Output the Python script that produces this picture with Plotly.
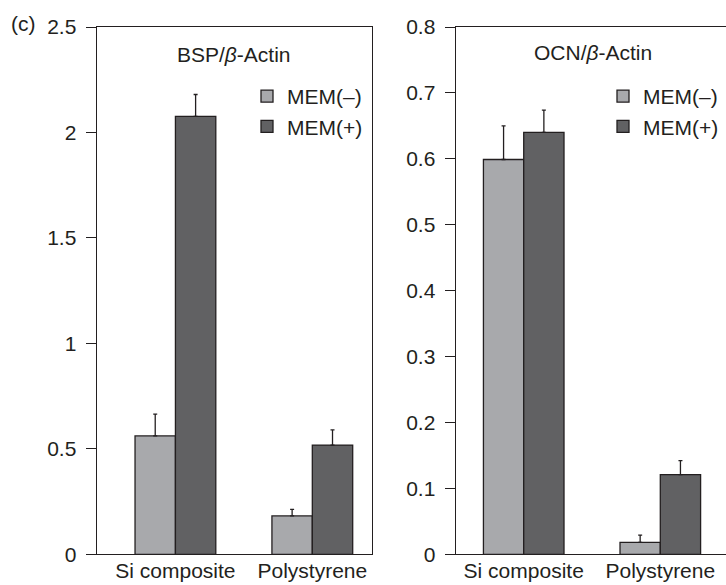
import plotly.graph_objects as go
from plotly.subplots import make_subplots

# data
categories = ["Si composite", "Polystyrene"]

bsp_minus = [0.561, 0.182]
bsp_minus_err = [0.104, 0.031]
bsp_plus = [2.076, 0.518]
bsp_plus_err = [0.104, 0.072]

ocn_minus = [0.599, 0.018]
ocn_minus_err = [0.051, 0.011]
ocn_plus = [0.640, 0.121]
ocn_plus_err = [0.034, 0.021]

bsp_ticks = [0, 0.5, 1, 1.5, 2, 2.5]
bsp_ticktext = ["0", "0.5", "1", "1.5", "2", "2.5"]
ocn_ticks = [0, 0.1, 0.2, 0.3, 0.4, 0.5, 0.6, 0.7, 0.8]
ocn_ticktext = ["0", "0.1", "0.2", "0.3", "0.4", "0.5", "0.6", "0.7", "0.8"]

LIGHT = "#a8a9ac"
DARK = "#616163"
INK = "#231f20"
FONT = "Liberation Sans, Arial, sans-serif"
FS = 21

W, H = 726, 585


def bar(y, err, name, color, legend):
    return go.Bar(
        x=categories, y=y, name=name, legend=legend,
        marker=dict(color=color, line=dict(color=INK, width=1.3)),
        error_y=dict(type="data", array=err, arrayminus=[0] * len(err),
                     symmetric=False, color=INK, thickness=1.3, width=2),
    )


fig = make_subplots(rows=1, cols=2)

fig.add_trace(bar(bsp_minus, bsp_minus_err, "MEM(\u2013)", LIGHT, "legend"), row=1, col=1)
fig.add_trace(bar(bsp_plus, bsp_plus_err, "MEM(+)", DARK, "legend"), row=1, col=1)
fig.add_trace(bar(ocn_minus, ocn_minus_err, "MEM(\u2013)", LIGHT, "legend2"), row=1, col=2)
fig.add_trace(bar(ocn_plus, ocn_plus_err, "MEM(+)", DARK, "legend2"), row=1, col=2)

# panel geometry (pixels -> paper)
y_dom = [1 - 554.3 / H, 1 - 27 / H]

axis_common = dict(showline=True, linecolor=INK, linewidth=1.3, showgrid=False,
                   zeroline=False, automargin=False,
                   tickfont=dict(family=FONT, size=FS, color=INK))

fig.update_xaxes(axis_common, ticks="", ticklen=0, mirror=True, type="category",
                 ticklabelstandoff=-3)
fig.update_yaxes(axis_common, ticks="outside", ticklen=10, tickcolor=INK, tickwidth=1.3,
                 ticklabelstandoff=5)

fig.update_xaxes(domain=[96.7 / W, 372 / W], range=[-0.575, 1.436], row=1, col=1)
fig.update_xaxes(domain=[455.7 / W, 1.0], range=[-0.498, 1.481], row=1, col=2)
fig.update_yaxes(domain=y_dom, range=[0, 2.5], tickvals=bsp_ticks, ticktext=bsp_ticktext,
                 mirror=True, row=1, col=1)
fig.update_yaxes(domain=y_dom, range=[0, 0.8], tickvals=ocn_ticks, ticktext=ocn_ticktext,
                 mirror=False, row=1, col=2)

legend_style = dict(font=dict(family=FONT, size=FS, color=INK), bgcolor="rgba(0,0,0,0)",
                    xanchor="left", yanchor="top", tracegroupgap=0, itemclick=False)

fig.update_layout(
    width=W, height=H,
    margin=dict(l=0, r=0, t=0, b=0),
    paper_bgcolor="white", plot_bgcolor="white",
    barmode="group", bargap=0.41, bargroupgap=0,
    font=dict(family=FONT, size=FS, color=INK),
    legend=dict(legend_style, x=247 / W, y=1 - 76 / H),
    legend2=dict(legend_style, x=603 / W, y=1 - 76 / H),
    annotations=[
        dict(text="BSP/<i>\u03b2</i>-Actin", x=234 / W, y=1 - 54 / H, xref="paper", yref="paper",
             xanchor="center", yanchor="middle", showarrow=False,
             font=dict(family=FONT, size=FS, color=INK)),
        dict(text="OCN/<i>\u03b2</i>-Actin", x=593 / W, y=1 - 52 / H, xref="paper", yref="paper",
             xanchor="center", yanchor="middle", showarrow=False,
             font=dict(family=FONT, size=FS, color=INK)),
        dict(text="(c)", x=9 / W, y=1 - 24 / H, xref="paper", yref="paper", xanchor="left",
             yanchor="middle", showarrow=False, font=dict(family=FONT, size=FS, color=INK)),
    ],
)

# drop the default page margin so the figure sits at the window's corner
fig.write_html("out.html", config={"displayModeBar": False},
               post_script="document.body.style.margin='0';")
